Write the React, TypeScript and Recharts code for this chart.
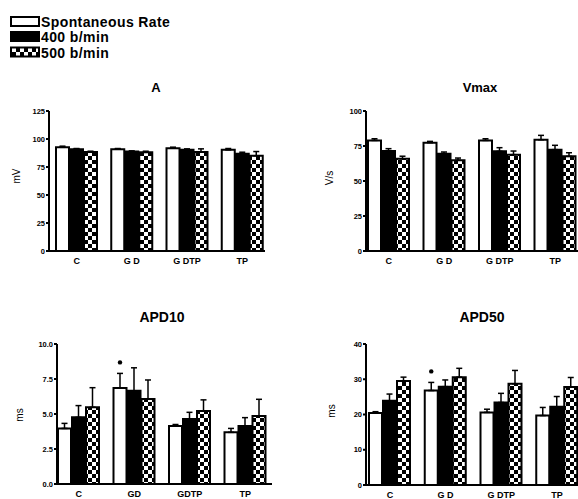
import { Bar, BarChart, ErrorBar, LabelList, XAxis, YAxis } from 'recharts'

// group labels as printed under each panel
const groupsSpaced = ['C', 'G D', 'G DTP', 'TP']
const groupsTight = ['C', 'GD', 'GDTP', 'TP']
const seriesNames = ['Spontaneous Rate', '400 b/min', '500 b/min']

// A (mV)
const ampSpont = [92.6, 90.9, 91.8, 90.3]
const ampSpontErr = [1.0, 0.6, 0.9, 1.2]
const amp400 = [90.9, 88.8, 90.3, 86.8]
const amp400Err = [0.6, 0.6, 0.9, 1.4]
const amp500 = [88.5, 88.2, 88.5, 85.0]
const amp500Err = [0.6, 0.9, 2.7, 3.8]

// Vmax (V/s)
const vmaxSpont = [79.0, 77.4, 79.0, 79.5]
const vmaxSpontErr = [1.2, 0.9, 1.2, 3.1]
const vmax400 = [71.4, 69.5, 71.2, 72.4]
const vmax400Err = [1.7, 1.2, 2.6, 3.1]
const vmax500 = [65.9, 64.8, 68.8, 67.6]
const vmax500Err = [1.8, 1.6, 2.6, 2.6]

// APD10 (ms)
const apd10Spont = [3.97, 6.86, 4.15, 3.69]
const apd10SpontErr = [0.36, 1.04, 0.1, 0.28]
const apd10_400 = [4.76, 6.66, 4.64, 4.14]
const apd10_400Err = [0.84, 1.64, 0.48, 0.6]
const apd10_500 = [5.48, 6.07, 5.21, 4.86]
const apd10_500Err = [1.4, 1.36, 0.8, 1.19]
const apd10Sig = [false, true, false, false]

// APD50 (ms)
const apd50Spont = [20.4, 26.8, 20.6, 19.7]
const apd50SpontErr = [0.4, 2.3, 0.9, 2.3]
const apd50_400 = [23.9, 27.9, 23.4, 22.2]
const apd50_400Err = [1.9, 1.9, 2.6, 2.9]
const apd50_500 = [29.5, 30.6, 28.7, 27.8]
const apd50_500Err = [1.1, 2.5, 3.8, 2.7]
const apd50Sig = [false, true, false, false]

const noSig = [false, false, false, false]

const FONT = '"Liberation Sans", Arial, sans-serif'

function buildRows(cats: string[], a: number[], ea: number[], b: number[], eb: number[], c: number[], ec: number[]) {
  return cats.map((name, i) => ({
    name,
    spont: a[i],
    spontErr: [0, ea[i]],
    r400: b[i],
    r400Err: [0, eb[i]],
    r500: c[i],
    r500Err: [0, ec[i]],
  }))
}

interface PanelProps {
  left: number
  top: number
  width: number
  margin: { top: number; right: number; bottom: number; left: number }
  yWidth: number
  domain: [number, number]
  ticks: number[]
  fmt?: (v: number) => string
  padding: { left: number; right: number }
  labelGap: number
  rows: any[]
  errs: number[]
  sig: boolean[]
}

function Panel({ left, top, width, margin, yWidth, domain, ticks, fmt, padding, labelGap, rows, errs, sig }: PanelProps) {
  const sigDot = (p: any) => {
    const { x, y, width: w, height: h, value, index } = p
    if (!sig[index]) return null
    const errPx = (errs[index] * h) / value
    return <circle cx={x + w / 2} cy={y - errPx - 11} r={2.2} fill="#000" />
  }
  return (
    <div style={{ position: 'absolute', left, top }}>
      <BarChart width={width} height={185} data={rows} margin={margin} barCategoryGap={7} barGap={1}>
        <XAxis
          dataKey="name"
          stroke="#000"
          strokeWidth={2}
          tickLine={false}
          tickSize={0}
          tickMargin={labelGap}
          height={22}
          padding={padding}
          interval={0}
          tick={{ fill: '#000', fontSize: 9, fontWeight: 'bold', fontFamily: FONT }}
        />
        <YAxis
          width={yWidth}
          domain={domain}
          ticks={ticks}
          allowDataOverflow
          stroke="#000"
          strokeWidth={2}
          tickSize={3}
          tickMargin={1}
          tickFormatter={fmt}
          tick={{ fill: '#000', fontSize: 7.5, fontWeight: 'bold', fontFamily: FONT }}
        />
        <Bar dataKey="spont" fill="#fff" stroke="#000" strokeWidth={2} isAnimationActive={false}>
          <ErrorBar dataKey="spontErr" direction="y" width={3} stroke="#000" strokeWidth={1.5} />
          <LabelList dataKey="spont" content={sigDot} />
        </Bar>
        <Bar dataKey="r400" fill="#000" stroke="#000" strokeWidth={2} isAnimationActive={false}>
          <ErrorBar dataKey="r400Err" direction="y" width={3} stroke="#000" strokeWidth={1.5} />
        </Bar>
        <Bar dataKey="r500" fill="url(#checker)" stroke="#000" strokeWidth={2} isAnimationActive={false}>
          <ErrorBar dataKey="r500Err" direction="y" width={3} stroke="#000" strokeWidth={1.5} />
        </Bar>
      </BarChart>
    </div>
  )
}

function Legend() {
  const fills = ['#fff', '#000', 'url(#checker)']
  const rowsY = [17, 32, 47.5]
  return (
    <svg width={200} height={62} style={{ position: 'absolute', left: 0, top: 0 }}>
      <defs>
        <pattern id="checker" width={8} height={8} patternUnits="userSpaceOnUse">
          <rect width={8} height={8} fill="#fff" />
          <rect x={0} y={0} width={4} height={4} fill="#000" />
          <rect x={4} y={4} width={4} height={4} fill="#000" />
        </pattern>
      </defs>
      {seriesNames.map((n, i) => (
        <g key={n}>
          <rect x={11} y={rowsY[i]} width={28} height={9} fill={fills[i]} stroke="#000" strokeWidth={2} />
          <text x={41} y={rowsY[i] + 10} fontSize={14} letterSpacing={0.4} fontWeight="bold" fontFamily={FONT} fill="#000">
            {n}
          </text>
        </g>
      ))}
    </svg>
  )
}

const titleStyle = (x: number, y: number): React.CSSProperties => ({
  position: 'absolute',
  left: x - 40,
  top: y - 8,
  width: 80,
  textAlign: 'center',
  fontFamily: FONT,
  fontWeight: 'bold',
  fontSize: 13,
  lineHeight: '16px',
})

const unitStyle = (x: number, y: number): React.CSSProperties => ({
  position: 'absolute',
  left: x - 20,
  top: y - 6,
  width: 40,
  height: 12,
  lineHeight: '12px',
  textAlign: 'center',
  fontFamily: FONT,
  fontSize: 10,
  transform: 'rotate(-90deg)',
})

export default function App() {
  const ampRows = buildRows(groupsSpaced, ampSpont, ampSpontErr, amp400, amp400Err, amp500, amp500Err)
  const vmaxRows = buildRows(groupsSpaced, vmaxSpont, vmaxSpontErr, vmax400, vmax400Err, vmax500, vmax500Err)
  const apd10Rows = buildRows(groupsTight, apd10Spont, apd10SpontErr, apd10_400, apd10_400Err, apd10_500, apd10_500Err)
  const apd50Rows = buildRows(groupsSpaced, apd50Spont, apd50SpontErr, apd50_400, apd50_400Err, apd50_500, apd50_500Err)

  return (
    <div style={{ position: 'absolute', left: 0, top: 0, width: 578, height: 499, overflow: 'hidden', background: '#fff' }}>
      <Legend />

      <div style={titleStyle(156, 88)}>A</div>
      <div style={titleStyle(480, 88)}>Vmax</div>
      <div style={{ ...titleStyle(162, 317), fontSize: 14 }}>APD10</div>
      <div style={{ ...titleStyle(482, 317), fontSize: 14 }}>APD50</div>

      <div style={unitStyle(17, 176)}>mV</div>
      <div style={unitStyle(330, 178)}>V/s</div>
      <div style={unitStyle(20, 415)}>ms</div>
      <div style={unitStyle(332, 411)}>ms</div>

      <Panel
        left={0}
        top={100}
        width={290}
        margin={{ top: 11, right: 25, bottom: 12, left: 0 }}
        yWidth={49}
        domain={[0, 125]}
        ticks={[0, 25, 50, 75, 100, 125]}
        padding={{ left: 0, right: -5 }}
        labelGap={7}
        rows={ampRows}
        errs={ampSpontErr}
        sig={noSig}
      />
      <Panel
        left={290}
        top={100}
        width={300}
        margin={{ top: 11, right: 7, bottom: 12, left: 0 }}
        yWidth={76}
        domain={[0, 100]}
        ticks={[0, 25, 50, 75, 100]}
        padding={{ left: -5, right: 0 }}
        labelGap={7}
        rows={vmaxRows}
        errs={vmaxSpontErr}
        sig={noSig}
      />
      <Panel
        left={0}
        top={334}
        width={290}
        margin={{ top: 10, right: 18, bottom: 13, left: 0 }}
        yWidth={57}
        domain={[0, 10]}
        ticks={[0, 2.5, 5, 7.5, 10]}
        fmt={(v: number) => v.toFixed(1)}
        padding={{ left: -6, right: -1 }}
        labelGap={7}
        rows={apd10Rows}
        errs={apd10SpontErr}
        sig={apd10Sig}
      />
      <Panel
        left={290}
        top={334}
        width={300}
        margin={{ top: 10, right: 5, bottom: 12, left: 0 }}
        yWidth={76}
        domain={[0, 40]}
        ticks={[0, 10, 20, 30, 40]}
        padding={{ left: -4, right: 0 }}
        labelGap={7}
        rows={apd50Rows}
        errs={apd50SpontErr}
        sig={apd50Sig}
      />
    </div>
  )
}
